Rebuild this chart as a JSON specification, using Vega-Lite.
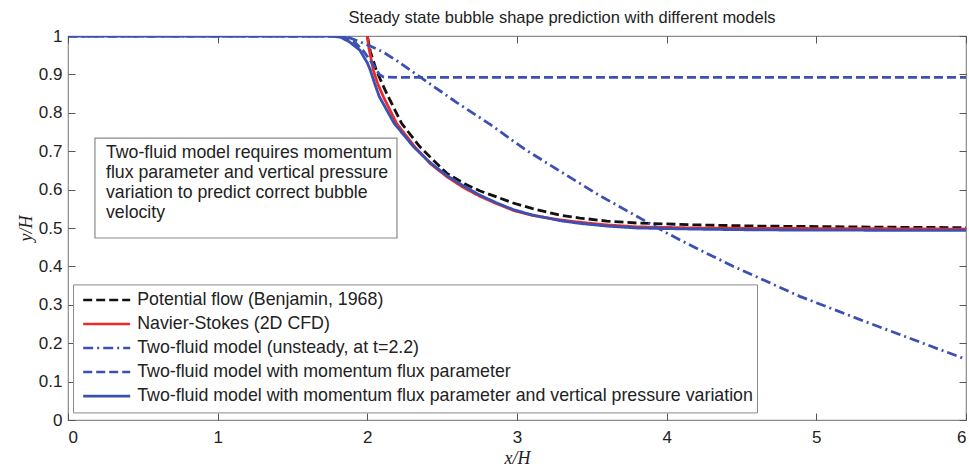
{
  "$schema": "https://vega.github.io/schema/vega-lite/v6.json",
  "width": 898,
  "height": 384,
  "autosize": "none",
  "padding": {"left": 68, "top": 36, "right": 3, "bottom": 47},
  "background": "white",
  "title": {"text": "Steady state bubble shape prediction with different models", "fontSize": 16.5, "fontWeight": "normal", "font": "Liberation Sans", "color": "#222", "anchor": "middle", "offset": 1, "dx": 45},
  "config": {
    "view": {"stroke": "#8a8a8a", "strokeWidth": 1.2},
    "axis": {"domain": false, "grid": false, "tickColor": "#555", "tickSize": -7, "tickWidth": 1, "labelFont": "Liberation Sans", "labelFontSize": 17, "labelColor": "#222", "titleFont": "Liberation Serif", "titleFontStyle": "italic", "titleFontWeight": "normal", "titleFontSize": 18, "titleColor": "#222"},
    "legend": {"title": null, "orient": "none", "legendX": 5, "legendY": 248.4, "symbolType": "stroke", "symbolSize": 2209, "symbolStrokeWidth": 2.7, "symbolOffset": 4.7, "clipHeight": 23.25, "rowPadding": 0,
               "labelFont": "Liberation Sans", "labelFontSize": 17.8, "labelColor": "#222", "labelLimit": 0, "labelOffset": 5.5, "padding": 4,
               "strokeColor": "#8a8a8a", "fillColor": "white"}
  },
  "datasets": {
    "curves": [
      {"m": "A", "x": 2.0, "y": 1.0}, {"m": "A", "x": 2.02, "y": 0.96}, {"m": "A", "x": 2.04, "y": 0.935}, {"m": "A", "x": 2.06, "y": 0.911}, {"m": "A", "x": 2.1, "y": 0.875}, {"m": "A", "x": 2.14, "y": 0.842}, {"m": "A", "x": 2.23, "y": 0.772}, {"m": "A", "x": 2.35, "y": 0.712}, {"m": "A", "x": 2.45, "y": 0.673}, {"m": "A", "x": 2.53, "y": 0.643}, {"m": "A", "x": 2.65, "y": 0.615}, {"m": "A", "x": 2.75, "y": 0.597}, {"m": "A", "x": 2.87, "y": 0.58}, {"m": "A", "x": 2.975, "y": 0.565}, {"m": "A", "x": 3.1, "y": 0.551}, {"m": "A", "x": 3.29, "y": 0.533}, {"m": "A", "x": 3.42, "y": 0.526}, {"m": "A", "x": 3.6, "y": 0.518}, {"m": "A", "x": 3.8, "y": 0.513}, {"m": "A", "x": 4.2, "y": 0.508}, {"m": "A", "x": 4.62, "y": 0.505}, {"m": "A", "x": 5.5, "y": 0.502}, {"m": "A", "x": 6.0, "y": 0.501},
      {"m": "B", "x": 2.0, "y": 1.0}, {"m": "B", "x": 2.01, "y": 0.97}, {"m": "B", "x": 2.025, "y": 0.94}, {"m": "B", "x": 2.04, "y": 0.911}, {"m": "B", "x": 2.07, "y": 0.875}, {"m": "B", "x": 2.107, "y": 0.842}, {"m": "B", "x": 2.196, "y": 0.772}, {"m": "B", "x": 2.318, "y": 0.711}, {"m": "B", "x": 2.42, "y": 0.668}, {"m": "B", "x": 2.53, "y": 0.634}, {"m": "B", "x": 2.64, "y": 0.606}, {"m": "B", "x": 2.75, "y": 0.583}, {"m": "B", "x": 2.86, "y": 0.564}, {"m": "B", "x": 2.975, "y": 0.546}, {"m": "B", "x": 3.1, "y": 0.533}, {"m": "B", "x": 3.29, "y": 0.521}, {"m": "B", "x": 3.42, "y": 0.515}, {"m": "B", "x": 3.6, "y": 0.508}, {"m": "B", "x": 3.8, "y": 0.503}, {"m": "B", "x": 4.2, "y": 0.5}, {"m": "B", "x": 4.62, "y": 0.499}, {"m": "B", "x": 5.5, "y": 0.498}, {"m": "B", "x": 6.0, "y": 0.497},
      {"m": "C", "x": 0.0, "y": 1.0}, {"m": "C", "x": 1.8, "y": 1.0}, {"m": "C", "x": 1.87, "y": 0.997}, {"m": "C", "x": 1.95, "y": 0.985}, {"m": "C", "x": 2.03, "y": 0.972}, {"m": "C", "x": 2.107, "y": 0.958}, {"m": "C", "x": 2.2, "y": 0.935}, {"m": "C", "x": 2.35, "y": 0.894}, {"m": "C", "x": 2.6, "y": 0.826}, {"m": "C", "x": 2.82, "y": 0.77}, {"m": "C", "x": 3.06, "y": 0.703}, {"m": "C", "x": 3.3, "y": 0.645}, {"m": "C", "x": 3.55, "y": 0.585}, {"m": "C", "x": 3.89, "y": 0.511}, {"m": "C", "x": 4.0, "y": 0.487}, {"m": "C", "x": 4.22, "y": 0.443}, {"m": "C", "x": 4.44, "y": 0.401}, {"m": "C", "x": 4.89, "y": 0.322}, {"m": "C", "x": 5.335, "y": 0.255}, {"m": "C", "x": 5.78, "y": 0.19}, {"m": "C", "x": 6.0, "y": 0.158},
      {"m": "D", "x": 0.0, "y": 1.0}, {"m": "D", "x": 1.8, "y": 1.0}, {"m": "D", "x": 1.86, "y": 0.995}, {"m": "D", "x": 1.92, "y": 0.982}, {"m": "D", "x": 1.97, "y": 0.963}, {"m": "D", "x": 2.04, "y": 0.925}, {"m": "D", "x": 2.08, "y": 0.9}, {"m": "D", "x": 2.11, "y": 0.893}, {"m": "D", "x": 2.2, "y": 0.892}, {"m": "D", "x": 6.0, "y": 0.892},
      {"m": "E", "x": 0.0, "y": 1.0}, {"m": "E", "x": 1.75, "y": 1.0}, {"m": "E", "x": 1.82, "y": 0.997}, {"m": "E", "x": 1.88, "y": 0.985}, {"m": "E", "x": 1.95, "y": 0.963}, {"m": "E", "x": 2.0, "y": 0.93}, {"m": "E", "x": 2.02, "y": 0.911}, {"m": "E", "x": 2.05, "y": 0.875}, {"m": "E", "x": 2.08, "y": 0.842}, {"m": "E", "x": 2.18, "y": 0.772}, {"m": "E", "x": 2.31, "y": 0.711}, {"m": "E", "x": 2.42, "y": 0.67}, {"m": "E", "x": 2.53, "y": 0.637}, {"m": "E", "x": 2.64, "y": 0.61}, {"m": "E", "x": 2.75, "y": 0.586}, {"m": "E", "x": 2.86, "y": 0.566}, {"m": "E", "x": 2.975, "y": 0.548}, {"m": "E", "x": 3.1, "y": 0.534}, {"m": "E", "x": 3.29, "y": 0.519}, {"m": "E", "x": 3.42, "y": 0.512}, {"m": "E", "x": 3.6, "y": 0.505}, {"m": "E", "x": 3.8, "y": 0.5}, {"m": "E", "x": 4.2, "y": 0.497}, {"m": "E", "x": 4.62, "y": 0.495}, {"m": "E", "x": 5.5, "y": 0.494}, {"m": "E", "x": 6.0, "y": 0.494}
    ],
    "box": [{"x0": 0.18, "x1": 2.198, "y0": 0.474, "y1": 0.734}],
    "note": [{"x": 0.254, "y": 0.681, "text": "Two-fluid model requires momentum\nflux parameter and vertical pressure\nvariation to predict correct bubble\nvelocity"}]
  },
  "layer": [
    {
      "data": {"name": "curves"},
      "mark": {"type": "line", "strokeWidth": 2.8, "clip": true},
      "encoding": {
        "x": {"field": "x", "type": "quantitative", "scale": {"domain": [0, 6], "nice": false, "zero": false},
              "axis": {"orient": "bottom", "values": [0, 1, 2, 3, 4, 5, 6], "title": "x/H", "labelPadding": 16, "titlePadding": 4}},
        "y": {"field": "y", "type": "quantitative", "scale": {"domain": [0, 1], "nice": false, "zero": false},
              "axis": {"orient": "left", "values": [0, 0.1, 0.2, 0.3, 0.4, 0.5, 0.6, 0.7, 0.8, 0.9, 1], "labelExpr": "format(datum.value, '.1~f')", "title": "y/H", "labelPadding": 13, "titlePadding": 3}},
        "color": {"field": "m", "type": "nominal",
                  "scale": {"domain": ["A", "B", "C", "D", "E"], "range": ["#111111", "#ee2a24", "#3b50b2", "#3b50b2", "#3b50b2"]},
                  "legend": {"labelExpr": "{'A': 'Potential flow (Benjamin, 1968)', 'B': 'Navier-Stokes (2D CFD)', 'C': 'Two-fluid model (unsteady, at t=2.2)', 'D': 'Two-fluid model with momentum flux parameter', 'E': 'Two-fluid model with momentum flux parameter and vertical pressure variation'}[datum.label]"}},
        "strokeDash": {"field": "m", "type": "nominal",
                       "scale": {"domain": ["A", "B", "C", "D", "E"], "range": [[9, 4], [1, 0], [10, 4, 2, 4], [9, 4], [1, 0]]},
                       "legend": {"labelExpr": "{'A': 'Potential flow (Benjamin, 1968)', 'B': 'Navier-Stokes (2D CFD)', 'C': 'Two-fluid model (unsteady, at t=2.2)', 'D': 'Two-fluid model with momentum flux parameter', 'E': 'Two-fluid model with momentum flux parameter and vertical pressure variation'}[datum.label]"}}
      }
    },
    {
      "data": {"name": "box"},
      "mark": {"type": "rect", "fill": "white", "stroke": "#8a8a8a", "strokeWidth": 1.2},
      "encoding": {
        "x": {"field": "x0", "type": "quantitative", "axis": {"orient": "top", "values": [0, 1, 2, 3, 4, 5, 6], "labels": false, "title": null}},
        "x2": {"field": "x1"},
        "y": {"field": "y0", "type": "quantitative", "axis": {"orient": "right", "values": [0, 0.1, 0.2, 0.3, 0.4, 0.5, 0.6, 0.7, 0.8, 0.9, 1], "labels": false, "title": null}},
        "y2": {"field": "y1"}
      }
    },
    {
      "data": {"name": "note"},
      "mark": {"type": "text", "align": "left", "baseline": "alphabetic", "lineBreak": "\n", "lineHeight": 20, "font": "Liberation Sans", "fontSize": 17.7, "color": "#222"},
      "encoding": {
        "x": {"field": "x", "type": "quantitative", "axis": null},
        "y": {"field": "y", "type": "quantitative", "axis": null},
        "text": {"field": "text", "type": "nominal"}
      }
    }
  ],
  "resolve": {"axis": {"x": "independent", "y": "independent"}}
}
